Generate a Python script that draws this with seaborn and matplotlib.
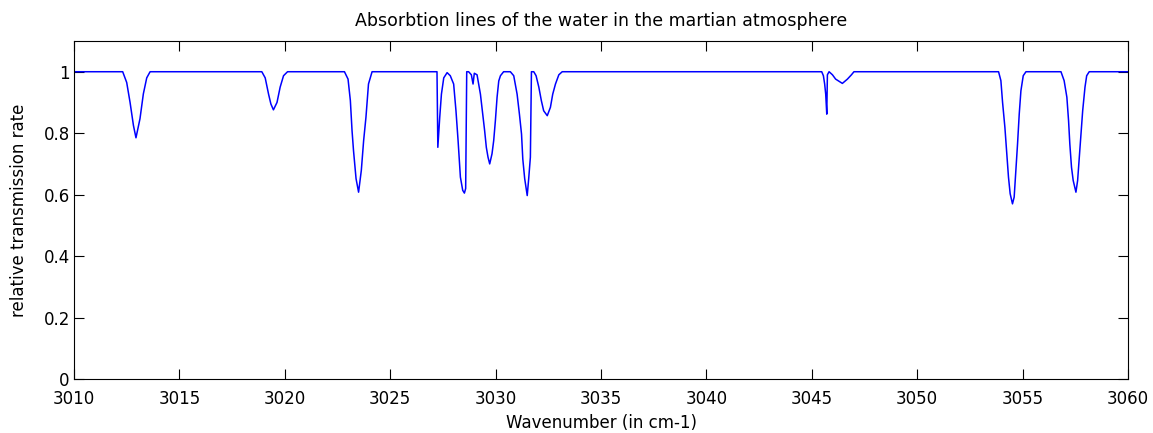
import matplotlib
matplotlib.use("Agg")
import matplotlib.pyplot as plt
import seaborn as sns
import pandas as pd

# Spectrum vertices (wavenumber in cm-1, transmission)
wavenumber = [
    3010.00,
    # line near 3013
    3012.31, 3012.50, 3012.66, 3012.82, 3012.94, 3013.13, 3013.29, 3013.45, 3013.61,
    # line near 3019.5
    3018.91, 3019.07, 3019.23, 3019.34, 3019.46, 3019.63, 3019.78, 3019.94, 3020.13,
    # line near 3023.5
    3022.83, 3023.00, 3023.11, 3023.19, 3023.26, 3023.38, 3023.50, 3023.63, 3023.74,
    3023.85, 3023.97, 3024.14,
    # dense group 3027 - 3033
    3027.22, 3027.26, 3027.35, 3027.43, 3027.54, 3027.70, 3027.85, 3028.01, 3028.12,
    3028.22, 3028.33, 3028.44, 3028.52, 3028.58, 3028.63, 3028.72, 3028.85, 3028.93,
    3028.99, 3029.12, 3029.28, 3029.39, 3029.48, 3029.56, 3029.64, 3029.72, 3029.83,
    3029.91, 3029.99, 3030.07, 3030.15, 3030.23, 3030.38, 3030.70, 3030.86, 3031.02,
    3031.13, 3031.23, 3031.29, 3031.38, 3031.50, 3031.57, 3031.65, 3031.70, 3031.81,
    3031.92, 3032.05, 3032.17, 3032.28, 3032.45, 3032.60, 3032.71, 3032.84, 3033.00,
    3033.16,
    # lines near 3045.7 / 3046.5
    3045.47, 3045.55, 3045.61, 3045.66, 3045.71, 3045.74, 3045.82, 3045.98, 3046.13,
    3046.45, 3046.69, 3046.88, 3047.00,
    # line near 3054.5
    3053.86, 3053.97, 3054.05, 3054.16, 3054.25, 3054.33, 3054.41, 3054.52, 3054.60,
    3054.68, 3054.76, 3054.84, 3054.92, 3055.03, 3055.16,
    # line near 3057.5
    3056.82, 3056.97, 3057.10, 3057.18, 3057.24, 3057.32, 3057.40, 3057.53, 3057.61,
    3057.68, 3057.77, 3057.85, 3057.96, 3058.04, 3058.16,
    3060.00,
]

transmission = [
    1.000,
    1.000, 0.965, 0.900, 0.825, 0.785, 0.847, 0.928, 0.980, 1.000,
    1.000, 0.980, 0.927, 0.895, 0.876, 0.900, 0.950, 0.987, 1.000,
    1.000, 0.976, 0.906, 0.808, 0.743, 0.652, 0.608, 0.679, 0.776,
    0.852, 0.960, 1.000,
    1.000, 0.754, 0.852, 0.927, 0.980, 0.997, 0.987, 0.960, 0.873,
    0.776, 0.657, 0.614, 0.605, 0.620, 1.000, 1.000, 0.990, 0.960,
    0.995, 0.990, 0.927, 0.862, 0.808, 0.754, 0.722, 0.700, 0.733,
    0.776, 0.841, 0.917, 0.970, 0.987, 1.000, 1.000, 0.987, 0.927,
    0.862, 0.797, 0.716, 0.652, 0.597, 0.652, 0.722, 1.000, 1.000,
    0.987, 0.950, 0.906, 0.873, 0.857, 0.884, 0.927, 0.960, 0.990,
    1.000,
    1.000, 0.987, 0.960, 0.927, 0.862, 0.990, 1.000, 0.990, 0.976,
    0.962, 0.976, 0.990, 1.000,
    1.000, 0.971, 0.900, 0.819, 0.733, 0.657, 0.603, 0.570, 0.592,
    0.679, 0.765, 0.862, 0.938, 0.987, 1.000,
    1.000, 0.971, 0.917, 0.841, 0.765, 0.689, 0.646, 0.608, 0.646,
    0.711, 0.797, 0.873, 0.950, 0.987, 1.000,
    1.000,
]

x_ticks = [3010, 3015, 3020, 3025, 3030, 3035, 3040, 3045, 3050, 3055, 3060]
y_ticks = [0, 0.2, 0.4, 0.6, 0.8, 1.0]
y_tick_labels = ["0", "0.2", "0.4", "0.6", "0.8", "1"]

df = pd.DataFrame({"wavenumber": wavenumber, "transmission": transmission})

sns.set_theme(style="white")
plt.rcParams["font.family"] = ["DejaVu Sans"]

fig = plt.figure(figsize=(11.53, 4.33), dpi=100)
ax = fig.add_axes([74 / 1153, 1 - 379 / 433, (1128 - 74) / 1153, (379 - 41) / 433])

sns.lineplot(data=df, x="wavenumber", y="transmission", ax=ax,
             color="#0000ff", linewidth=1.1, estimator=None, sort=False)

ax.set_xlim(3010, 3060)
ax.set_ylim(0, 1.1)
ax.set_xticks(x_ticks)
ax.set_xticklabels([str(t) for t in x_ticks])
ax.set_yticks(y_ticks)
ax.set_yticklabels(y_tick_labels)

for s in ax.spines.values():
    s.set_color("black")
    s.set_linewidth(0.8)
    s.set_visible(True)

ax.tick_params(direction="in", length=7, width=0.8, color="black",
               top=True, right=True, bottom=True, left=True,
               labelsize=12, labelcolor="black")
ax.tick_params(axis="x", pad=8)
ax.tick_params(axis="y", pad=3)

ax.set_xlabel("Wavenumber (in cm-1)", fontsize=12, color="black", labelpad=4)
ax.set_ylabel("relative transmission rate", fontsize=12, color="black")
ax.yaxis.set_label_coords(-0.044, 0.5)
ax.set_title("Absorbtion lines of the water in the martian atmosphere",
             fontsize=12.5, color="black", pad=11)

fig.savefig("out.png", dpi=100, facecolor="white")
